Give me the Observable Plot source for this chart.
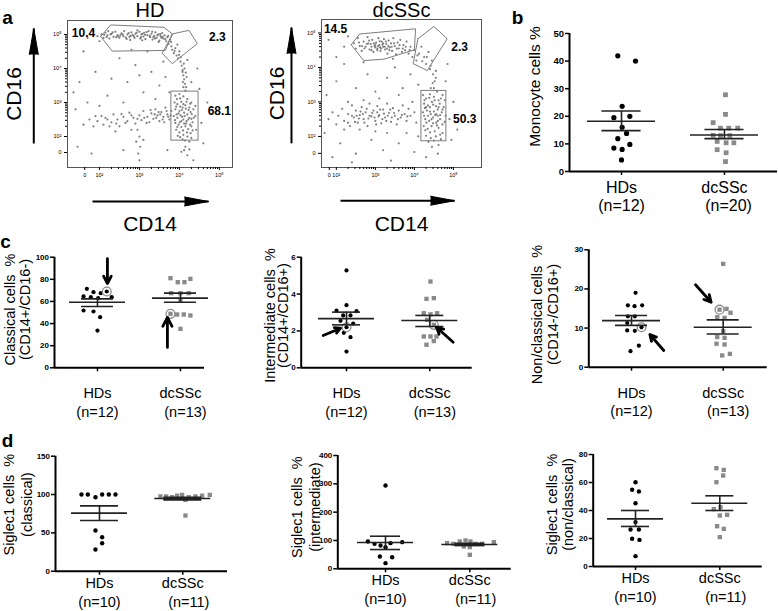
<!DOCTYPE html>
<html><head><meta charset="utf-8">
<script src="https://cdn.jsdelivr.net/npm/d3@7"></script>
<script src="https://cdn.jsdelivr.net/npm/@observablehq/plot@0.6"></script>
<style>
body{margin:0;background:#fff;}
#fig{position:relative;width:778px;height:611px;overflow:hidden;background:#fff;}
#fig svg{position:absolute;overflow:visible;background:transparent;}
</style></head><body><div id="fig"></div>
<script>
// ---------- shared labels ----------
const cats = ["HDs", "dcSSc"];
const flowTickLabels = ["0", "10²", "10³", "10⁴", "10⁵"];

// ---------- panel a : flow cytometry (values in decades) ----------
const hdFlowXTicks = [1.63, 2, 3, 4, 5];
const hdFlowYTicks = [1.53, 2, 3, 4, 5];
const dcFlowXTicks = [1.82, 2, 3, 4, 5];
const dcFlowYTicks = [1.51, 2, 3, 4, 5];

const hdFlowPoints = [
[1.95,4.95],[2.05,5.0],[2.1,4.9],[2.15,5.05],[2.2,4.97],[2.25,4.88],[2.3,5.02],[2.35,4.93],[2.4,5.08],[2.45,4.98],[2.5,4.9],[2.55,5.03],[2.6,4.95],[2.62,5.1],[2.68,4.87],[2.7,5.0],[2.75,4.93],[2.8,5.06],[2.83,4.98],[2.88,4.9],[2.9,5.02],[2.95,4.95],[3.0,5.08],[3.02,4.88],[3.05,5.0],[3.1,4.94],[3.12,5.05],[3.15,4.86],[3.2,4.98],[3.23,5.1],[3.27,4.92],[3.3,5.02],[3.33,4.85],[3.37,4.96],[3.4,5.06],[3.43,4.9],[3.47,5.0],[3.5,4.82],[3.53,4.95],[3.57,5.04],[3.6,4.88],[3.63,4.97],[3.67,4.8],[3.7,4.92],[3.73,4.72],[3.77,4.85],[3.8,4.65],[3.82,4.55],[3.86,4.45],[3.9,4.6],[3.93,4.38],[3.97,4.3],[4.0,4.5],[4.03,4.2],[4.06,4.08],[4.08,3.95],[4.1,3.8],[4.12,3.68],[4.14,3.55],[4.1,3.45],[4.15,3.35],[4.08,3.9],[4.13,4.0],[1.7,4.9],[1.85,5.1],[2.0,4.8],[3.95,4.7],[4.2,4.25],[4.18,3.75],
[2.28,5.0],[2.52,4.97],[2.78,4.96],[3.08,5.02],[3.35,4.92],[3.55,4.9],[2.95,5.12],[2.42,4.92],
[2.12,4.99],[2.18,4.92],[2.33,5.06],[2.47,4.94],[2.58,5.0],[2.66,4.91],[2.73,5.04],[2.86,4.95],[2.93,5.05],[3.04,4.92],[3.14,4.99],[3.18,5.07],[3.26,4.96],[3.32,5.08],[3.39,4.88],[3.45,4.97],[3.52,5.01],[3.58,4.93],[3.65,4.86],[3.72,4.96],[2.22,5.1],[2.77,4.84],[3.07,4.83],[3.48,4.78],[3.79,4.78],[3.88,4.52],[3.99,4.4],[4.04,4.33],[4.11,4.14],[4.16,3.88],[4.09,3.6],[4.17,3.45],
[3.9,3.2],[4.0,3.25],[4.1,3.18],[4.2,3.1],[4.3,3.0],[3.88,3.0],[3.95,2.95],[4.05,3.02],[4.15,2.92],[4.25,2.85],[4.35,2.8],[3.9,2.8],[4.0,2.75],[4.08,2.85],[4.12,2.7],[4.2,2.65],[4.28,2.72],[4.4,2.6],[3.86,2.6],[3.95,2.55],[4.03,2.62],[4.1,2.5],[4.18,2.45],[4.25,2.55],[4.33,2.42],[3.9,2.4],[3.98,2.35],[4.05,2.28],[4.15,2.3],[4.22,2.22],[4.3,2.3],[3.92,2.2],[4.0,2.12],[4.1,2.05],[4.2,2.0],[4.28,2.1],[3.96,2.02],[4.08,1.92],[4.25,1.85],[4.15,1.7],[4.05,1.55],[4.2,1.45],[4.4,2.9],[4.42,2.2],[4.05,2.45],[4.13,2.6],[3.98,2.68],[4.23,2.78],[4.1,2.95],[4.17,2.38],[4.02,2.88],[4.3,2.52],
[3.94,3.1],[4.02,3.12],[4.18,3.02],[4.27,2.96],[3.92,2.88],[4.06,2.78],[4.16,2.82],[4.31,2.66],[3.93,2.65],[4.07,2.58],[4.22,2.5],[4.36,2.55],[3.89,2.48],[4.01,2.42],[4.12,2.38],[4.27,2.35],[3.95,2.28],[4.09,2.18],[4.19,2.12],[4.33,2.18],[4.02,1.98],[4.14,1.88],[4.3,1.96],[4.12,1.6],[4.25,1.62],
[1.6,2.35],[1.75,2.5],[1.85,2.3],[1.95,2.45],[2.05,2.6],[2.1,2.35],[2.2,2.5],[2.3,2.42],[2.35,2.65],[2.45,2.5],[2.5,2.3],[2.6,2.58],[2.7,2.45],[2.75,2.7],[2.85,2.55],[2.9,2.38],[3.0,2.62],[3.05,2.48],[3.1,2.75],[3.2,2.58],[3.25,2.42],[3.3,2.68],[3.35,2.52],[3.4,2.8],[3.45,2.62],[3.5,2.45],[3.55,2.72],[3.6,2.58],[3.65,2.85],[3.7,2.65],[3.75,2.5],[3.8,2.75],[2.95,2.2],[3.0,2.0],[2.92,1.85],[3.02,1.7],[2.97,1.5],[3.1,1.9],[2.8,2.2],[2.4,2.15],
[2.15,2.55],[2.42,2.38],[2.55,2.66],[2.65,2.4],[2.8,2.62],[2.95,2.52],[3.12,2.55],[3.18,2.4],[3.28,2.78],[3.42,2.55],[3.52,2.65],[3.58,2.5],[3.68,2.75],[3.72,2.58],[3.78,2.62],[3.62,2.42],[3.48,2.72],[3.38,2.65],[1.9,2.6],[2.25,2.3],
[1.5,3.6],[1.9,3.9],[2.2,3.2],[2.5,4.3],[2.7,3.6],[2.9,4.1],[3.1,3.3],[3.3,3.9],[3.5,3.5],[3.6,4.2],[3.75,3.3],[1.7,3.0],[2.3,3.7],[2.6,3.0],[3.0,3.8],[3.4,3.1],[3.65,3.75],[4.5,3.4],[4.55,2.4],[4.6,1.8],[1.45,1.7],[1.8,1.5],[2.6,1.6],[3.0,1.3],[3.7,1.6],[4.35,1.3],[1.4,2.8],[2.0,2.9],[4.45,4.0],[4.7,3.0],[1.6,4.5],[2.8,4.55],[3.2,4.5],[1.35,3.3],[4.3,3.6]
];
const hdGateNC = [[2.03,4.94],[2.28,5.28],[3.61,5.21],[3.82,5.02],[3.65,4.53],[2.32,4.51],[2.03,4.94]];
const hdGateInt = [[3.84,5.02],[4.24,5.12],[4.45,4.73],[3.82,4.14],[3.57,4.45],[3.84,5.02]];
const hdGateCl = [3.80, 4.48, 1.88, 3.32];
const hdGatePct = ["10.4", "2.3", "68.1"];
const hdGatePctX = [1.6, 4.95, 5.0];
const hdGatePctY = [5.03, 4.91, 2.74];
const hdUpArrow = [0.356, 1.795, 0.356, 5.175];
const hdRightArrow = [1.826, 0.091, 4.73, 0.091];

const dcFlowPoints = [
[2.45,4.7],[2.5,4.55],[2.55,4.85],[2.6,4.62],[2.65,4.48],[2.7,4.75],[2.75,4.6],[2.8,4.88],[2.85,4.52],[2.88,4.68],[2.92,4.8],[2.95,4.45],[2.98,4.62],[3.02,4.72],[3.05,4.55],[3.08,4.85],[3.1,4.65],[3.13,4.48],[3.16,4.75],[3.2,4.6],[3.22,4.82],[3.25,4.52],[3.28,4.68],[3.31,4.4],[3.34,4.78],[3.37,4.58],[3.4,4.7],[3.43,4.48],[3.46,4.85],[3.5,4.62],[3.53,4.38],[3.57,4.72],[3.6,4.55],[3.64,4.8],[3.68,4.45],[3.72,4.65],[3.76,4.5],[3.8,4.75],[3.85,4.4],[3.9,4.6],[3.95,4.3],[4.0,4.5],[4.05,4.2],[4.12,4.4],[4.18,4.6],[4.25,4.3],[4.3,4.1],[4.36,4.45],[4.4,3.95],[4.45,4.2],[4.48,3.8],[4.52,3.6],[4.5,3.4],[4.55,3.9],[2.3,4.9],[2.2,4.6],
[2.9,4.6],[3.0,4.66],[3.12,4.58],[3.2,4.7],[3.3,4.55],[2.82,4.7],[3.05,4.5],
[2.72,4.55],[2.78,4.68],[2.84,4.78],[2.9,4.5],[2.96,4.7],[3.0,4.58],[3.07,4.62],[3.11,4.76],[3.15,4.55],[3.18,4.66],[3.24,4.6],[3.27,4.75],[3.33,4.62],[3.36,4.5],[3.42,4.6],[3.48,4.7],[3.55,4.55],[3.62,4.65],[3.7,4.55],[3.78,4.6],[3.88,4.5],[2.58,4.72],[2.66,4.62],[4.08,4.35],[4.2,4.18],[4.32,4.3],[4.42,4.05],[4.47,3.55],[4.55,3.7],[4.42,3.4],
[4.22,3.2],[4.3,3.1],[4.4,3.22],[4.5,3.15],[4.62,3.05],[4.72,3.2],[4.25,2.95],[4.35,2.9],[4.45,3.0],[4.55,2.88],[4.65,2.95],[4.75,2.85],[4.22,2.7],[4.32,2.75],[4.42,2.65],[4.5,2.72],[4.6,2.6],[4.7,2.7],[4.28,2.5],[4.38,2.45],[4.48,2.55],[4.56,2.4],[4.66,2.5],[4.78,2.42],[4.24,2.3],[4.34,2.22],[4.44,2.3],[4.52,2.15],[4.62,2.25],[4.72,2.1],[4.3,2.02],[4.42,1.95],[4.55,2.0],[4.68,1.92],[4.4,2.85],[4.6,2.78],[4.48,2.38],[4.35,2.6],[4.58,3.3],[4.45,1.7],[4.6,1.5],[4.3,1.4],[4.53,2.62],[4.27,2.82],
[4.26,3.05],[4.38,3.12],[4.52,3.05],[4.68,3.1],[4.3,2.85],[4.48,2.92],[4.62,2.85],[4.72,2.78],[4.25,2.6],[4.4,2.72],[4.56,2.65],[4.66,2.62],[4.31,2.4],[4.44,2.5],[4.6,2.45],[4.72,2.35],[4.28,2.18],[4.4,2.12],[4.58,2.32],[4.66,2.05],[4.36,1.85],[4.5,1.88],[4.62,1.75],[4.8,2.6],[4.78,3.05],
[1.8,2.5],[1.9,2.7],[2.0,2.35],[2.05,2.6],[2.15,2.8],[2.2,2.45],[2.3,2.65],[2.35,2.3],[2.4,2.9],[2.45,2.55],[2.5,2.75],[2.55,2.4],[2.6,2.62],[2.65,2.85],[2.7,2.5],[2.75,2.7],[2.8,2.3],[2.85,2.95],[2.9,2.58],[2.95,2.75],[3.0,2.45],[3.05,2.88],[3.1,2.62],[3.15,2.38],[3.2,2.78],[3.25,2.55],[3.3,2.95],[3.35,2.68],[3.4,2.42],[3.45,2.82],[3.5,2.6],[3.55,2.35],[3.6,2.75],[3.65,2.55],[3.7,2.9],[3.75,2.65],[3.8,2.45],[3.85,2.8],[3.9,2.6],[3.95,3.0],[4.0,2.7],[4.05,2.4],[2.6,2.2],[3.0,2.15],[3.3,2.1],[2.2,2.2],[2.7,3.05],[3.1,3.1],[2.62,2.72],[2.85,2.6],[3.05,2.7],
[2.52,2.6],[2.58,2.52],[2.68,2.65],[2.72,2.4],[2.78,2.8],[2.82,2.52],[2.92,2.68],[2.98,2.55],[3.02,2.35],[3.08,2.58],[3.12,2.78],[3.18,2.5],[3.22,2.66],[3.28,2.45],[3.32,2.6],[3.38,2.78],[3.42,2.55],[2.4,2.6],[2.3,2.4],[2.48,2.42],[3.48,2.68],[3.58,2.5],[3.68,2.62],[3.82,2.58],
[1.75,3.2],[2.0,3.6],[2.2,4.1],[2.5,3.4],[2.8,3.8],[3.0,3.3],[3.3,3.7],[3.5,4.0],[3.7,3.4],[3.9,3.8],[4.1,3.5],[2.1,1.8],[2.5,1.5],[2.9,1.9],[3.2,1.6],[3.6,1.8],[4.0,1.55],[4.9,2.5],[5.0,3.0],[4.95,1.9],[1.9,1.4],[2.4,1.25],[3.4,1.3],[3.8,2.1],[4.1,2.0],[4.8,3.6],[2.3,3.0],[1.7,2.1],[3.6,3.2],[2.0,4.3],[5.1,2.2],[4.85,4.1],[2.7,4.15],[3.45,4.25],[1.8,4.8]
];
const dcGateNC = [[2.38,4.66],[2.60,4.97],[4.03,5.12],[4.0,4.51],[3.22,4.24],[2.70,4.20],[2.38,4.66]];
const dcGateInt = [[4.09,4.83],[4.50,5.19],[4.84,4.83],[4.33,3.91],[3.97,4.11],[4.09,4.83]];
const dcGateCl = [4.18, 4.82, 1.86, 3.32];
const dcGatePct = ["14.5", "2.3", "50.3"];
const dcGatePctX = [1.98, 5.16, 5.29];
const dcGatePctY = [5.12, 4.58, 2.49];
const dcUpArrow = [0.851, 1.80, 0.851, 5.156];
const dcRightArrow = [2.107, 0.137, 5.03, 0.137];

// ---------- panel b : monocytes ----------
const bHdX = [0.964,1.136,1.006,0.926,1.081,1.006,1.049,0.964,0.926,1.081,1.006,1.0];
const bHdY = [41.9,40.0,23.6,19.5,20.0,16.0,13.8,11.9,8.5,9.8,8.0,4.2];
const bDcX = [2.010,2.010,1.890,1.961,2.042,2.129,1.890,1.961,2.052,1.929,2.016,2.091,1.929,2.016,2.010];
const bDcY = [27.8,20.7,17.7,15.7,15.7,15.7,13.1,13.0,13.0,10.9,10.4,10.4,7.9,6.8,3.6];
const bMean = [18.2, 13.2], bLo = [14.8, 11.9], bHi = [21.9, 15.2];
const bN = ["(n=12)", "(n=20)"];
const bTicks = [0, 10, 20, 30, 40, 50];

// ---------- panel c : classical / intermediate / non-classical ----------
const cN = ["(n=12)", "(n=13)"];
const c1HdX = [0.872,0.952,1.04,1.112,0.832,0.92,1.008,1.172,0.832,0.952,1.032,1.0];
const c1HdY = [71.4,68.4,67.5,69.0,64.5,63.9,63.0,63.9,51.8,50.9,45.8,33.7];
const c1DcX = [1.88,1.968,2.048,2.12,1.888,2.0,2.1,2.0,1.88,1.96,2.04,2.12,2.0];
const c1DcY = [81.0,77.4,77.4,80.4,67.5,67.5,67.5,60.8,48.8,48.2,48.2,47.3,35.2];
const c1Mean = [59.3, 63.0], c1Lo = [55.4, 59.3], c1Hi = [62.3, 67.5];
const c1Ring = [3, 8];
const c1Arrows = [[1.12, 98.8, 1.12, 76.2], [1.843, 18.4, 1.843, 45.5]];
const c1Ticks = [0, 20, 40, 60, 80, 100];

const c2HdX = [1,1,0.88,1.12,0.96,1.048,0.928,1.0,0.968,1.048,1.0,1.08];
const c2HdY = [5.28,3.40,3.10,3.07,2.84,2.84,2.55,2.20,1.90,1.66,0.88,2.40];
const c2DcX = [2.008,1.96,2.048,1.928,2.008,2.088,1.968,2.048,1.928,2.008,2.08,1.96,2.048];
const c2DcY = [4.68,3.74,3.78,2.96,2.90,2.96,2.60,2.33,1.70,1.70,1.70,1.25,1.45];
const c2Mean = [2.67, 2.57], c2Lo = [2.33, 2.24], c2Hi = [3.02, 2.84];
const c2Ring = [7, 7];
const c2Arrows = [[0.72, 1.75, 0.928, 2.15], [2.281, 1.39, 2.08, 2.2]];
const c2Ticks = [0, 2, 4, 6];

const c3HdX = [1.044,0.96,1.033,1.116,0.96,1.036,0.953,1.109,0.953,1.036,1.08,0.989];
const c3HdY = [19.0,15.8,15.6,15.8,13.0,13.0,11.3,10.2,9.4,9.3,5.5,4.1];
const c3DcX = [2.0,1.96,2.036,2.08,1.935,2.015,2.0,1.935,2.015,1.927,2.015,1.989,2.073];
const c3DcY = [26.4,14.7,14.9,13.9,12.8,12.6,9.2,7.7,7.5,6.0,5.8,3.0,3.4];
const c3Mean = [11.9, 10.2], c3Lo = [10.7, 8.5], c3Hi = [13.2, 12.1];
const c3Ring = [7, 1];
const c3Arrows = [[1.352, 4.27, 1.2, 8.36], [1.698, 21.06, 1.869, 16.6]];
const c3Ticks = [0, 10, 20, 30];

// ---------- panel d : Siglec1 ----------
const dN = ["(n=10)", "(n=11)"];
const d1HdX = [0.784,0.86,0.952,1.032,1.112,1.192,0.952,1.032,1.032,0.952];
const d1HdY = [100,100,96.5,100,100,100,53,44.3,36.5,28.3];
const d1DcX = [1.732,1.8,1.872,1.932,1.992,2.072,2.152,2.232,2.324,2.032,2.032];
const d1DcY = [97.5,97.5,96.5,98.5,99.5,96.5,97.5,98.5,99.5,93.0,72.6];
const d1Mean = [75.7, 94.8], d1Lo = [66.1, 93.0], d1Hi = [85.2, 96.5];
const d1Ticks = [0, 50, 100, 150];

const d2HdX = [1.0,0.791,0.87,0.941,1.059,1.198,1.0,0.933,1.079,1.0];
const d2HdY = [294,96.5,88,82,90.6,94,76.5,43.5,41,20];
const d2DcX = [1.731,1.802,1.881,1.949,2.008,2.067,2.146,2.285,1.929,2.0,2.0];
const d2DcY = [90.6,88,96.5,100,96.5,88,88,94,78.8,76.5,49.4];
const d2Mean = [93, 86], d2Lo = [68, 82], d2Hi = [115, 90];
const d2Ticks = [0, 100, 200, 300, 400];

const d3HdX = [1.0,0.96,1.04,1.0,1.0,0.941,1.04,0.96,1.047,1.0];
const d3HdY = [60.2,54.8,53.6,45.2,31.7,26.4,26.4,19.8,19.0,7.4];
const d3DcX = [1.96,2.047,2.04,1.96,1.929,2.008,2.0,2.087,1.968,2.047,2.0];
const d3DcY = [70.2,69.0,65.0,60.2,41.0,42.4,36.4,36.9,28.8,26.9,21.0];
const d3Mean = [34, 45.2], d3Lo = [28.6, 40], d3Hi = [40, 50.5];
const d3Ticks = [0, 20, 40, 60, 80];

// ---------- rendering ----------
const FONT = "'Liberation Sans', Arial, Helvetica, sans-serif";
const fig = document.getElementById("fig");
const flowMinor = d3.range(2, 5).flatMap(k => d3.range(2, 10).map(m => k + Math.log10(m)));

function place(svg, left, top) {
  svg.style.left = left + "px";
  svg.style.top = top + "px";
  fig.appendChild(svg);
}

function flowPanel(p) {
  const lx = new Map(p.xTicks.map((t, i) => [t, flowTickLabels[i]]));
  const ly = new Map(p.yTicks.map((t, i) => [t, flowTickLabels[i]]));
  const gx = d => d[0], gy = d => d[1];
  const marks = [
    Plot.dot(p.points, {x: gx, y: gy, r: 1.1, fill: "#555", fillOpacity: 0.75}),
    Plot.line(p.gateNC, {x: gx, y: gy, stroke: "#7d7d7d", strokeWidth: 1}),
    Plot.line(p.gateInt, {x: gx, y: gy, stroke: "#7d7d7d", strokeWidth: 1}),
    Plot.rect([p.gateCl], {x1: d => d[0], x2: d => d[1], y1: d => d[2], y2: d => d[3], fill: "none", stroke: "#7d7d7d", strokeWidth: 1}),
    Plot.frame({stroke: "#555", strokeWidth: 1}),
    Plot.axisX({ticks: p.xTicks, tickFormat: d => lx.get(d), tickSize: 3, tickPadding: 3, fontSize: 5.5, label: null}),
    Plot.axisX({ticks: flowMinor, tickSize: 2, tickFormat: () => "", label: null}),
    Plot.axisY({ticks: p.yTicks, tickFormat: d => ly.get(d), tickSize: 3, tickPadding: 3, fontSize: 5.5, label: null}),
    Plot.axisY({ticks: flowMinor, tickSize: 2, tickFormat: () => "", label: null}),
    Plot.text(p.pct, {x: p.pctX, y: p.pctY, fontSize: 12, fontWeight: "bold"}),
    Plot.text([p.title], {frameAnchor: "top", dy: p.titleDy, fontSize: 20, lineAnchor: "middle", textAnchor: "middle"}),
    Plot.text(["CD16"], {frameAnchor: "left", dx: p.cd16Dx, dy: 0, rotate: -90, fontSize: 21, lineAnchor: "middle", textAnchor: "middle"}),
    Plot.text(["CD14"], {frameAnchor: "bottom", dy: 57, fontSize: 21, lineAnchor: "middle", textAnchor: "middle"}),
    Plot.link([p.up, p.right], {x1: d => d[0], y1: d => d[1], x2: d => d[2], y2: d => d[3], stroke: "#000", strokeWidth: 2}),
    Plot.vector([p.up], {x: d => d[2], y: d => d[3], length: 26, r: 4.5, rotate: 0, shape: "spike", anchor: "end", fill: "#000", stroke: "#000", strokeWidth: 1}),
    Plot.vector([p.right], {x: d => d[2], y: d => d[3], length: 24, r: 4.5, rotate: 90, shape: "spike", anchor: "end", fill: "#000", stroke: "#000", strokeWidth: 1})
  ];
  if (p.letter) marks.push(Plot.text([p.letter], {frameAnchor: "top-left", dx: p.letter_dx, dy: p.letter_dy, fontSize: 19, fontWeight: "bold", textAnchor: "middle", lineAnchor: "middle"}));
  const svg = Plot.plot({
    width: p.w, height: p.h,
    marginLeft: p.m[0], marginRight: p.m[1], marginTop: p.m[2], marginBottom: p.m[3],
    x: {domain: p.xDomain}, y: {domain: p.yDomain},
    style: {fontFamily: FONT, background: "transparent", overflow: "visible", color: "#000"},
    marks
  });
  place(svg, p.left, p.top);
}

function scatterPanel(p) {
  const hd = p.hdY.map((y, i) => ({x: p.hdX[i], y, ring: p.ring && i === p.ring[0]}));
  const dc = p.dcY.map((y, i) => ({x: p.dcX[i], y, ring: p.ring && i === p.ring[1]}));
  const st = [0, 1].map(i => ({g: i + 1, m: p.mean[i], lo: p.lo[i], hi: p.hi[i]}));
  const s = p.s;
  const LC = "#222";
  const marks = [
    Plot.axisY({ticks: p.yTicks, tickFormat: d => String(d), tickSize: 4, tickPadding: 1.5, strokeWidth: 1.5, fontSize: s.tickFont, fontWeight: "bold", label: null}),
    Plot.axisX({ticks: [1, 2], tickSize: 4, strokeWidth: 1.5, tickFormat: () => "", label: null}),
    Plot.ruleX([p.xDomain[0]], {strokeWidth: 2, stroke: "#000"}),
    Plot.ruleY([0], {strokeWidth: 2, stroke: "#000"}),
    Plot.dot(dc, {x: "x", y: "y", r: s.sqR, symbol: "square", fill: "#8a8a8a"}),
    Plot.dot(hd, {x: "x", y: "y", r: s.dotR, fill: "#000"}),
    Plot.dot([...hd, ...dc].filter(d => d.ring), {x: "x", y: "y", r: 4.4, fill: "none", stroke: "#8a8a8a", strokeWidth: 1.3}),
    Plot.ruleY(st, {y: "m", x1: d => d.g - s.meanHalf, x2: d => d.g + s.meanHalf, stroke: LC, strokeWidth: 1.6}),
    Plot.ruleY(st, {y: "lo", x1: d => d.g - s.semHalf, x2: d => d.g + s.semHalf, stroke: LC, strokeWidth: 1.6}),
    Plot.ruleY(st, {y: "hi", x1: d => d.g - s.semHalf, x2: d => d.g + s.semHalf, stroke: LC, strokeWidth: 1.6}),
    Plot.ruleX(st, {x: "g", y1: "lo", y2: "hi", stroke: LC, strokeWidth: 1.6}),
    Plot.text(cats, {x: [1, 2], frameAnchor: "bottom", dy: s.catDy, fontSize: s.catFont, lineAnchor: "middle", textAnchor: "middle"}),
    Plot.text(p.n, {x: [1, 2 + s.nOff], frameAnchor: "bottom", dy: s.nDy, fontSize: s.catFont, lineAnchor: "middle", textAnchor: "middle"})
  ];
  p.ylab.forEach((t, i) => marks.push(Plot.text([t], {frameAnchor: "left", rotate: -90, dx: s.labDx[i], dy: s.labDy, fontSize: s.labFont, lineAnchor: "middle", textAnchor: "middle"})));
  if (p.arrows) marks.push(Plot.arrow(p.arrows, {x1: d => d[0], y1: d => d[1], x2: d => d[2], y2: d => d[3], stroke: "#000", strokeWidth: 2.8, headLength: 10, headAngle: 55}));
  if (p.letter) marks.push(Plot.text([p.letter], {frameAnchor: "top-left", dx: s.letterDx, dy: s.letterDy, fontSize: 19, fontWeight: "bold", textAnchor: "middle", lineAnchor: "middle"}));
  const svg = Plot.plot({
    width: p.w, height: p.h,
    marginLeft: p.m[0], marginRight: p.m[1], marginTop: p.m[2], marginBottom: p.m[3],
    x: {domain: p.xDomain}, y: {domain: [0, p.yTicks[p.yTicks.length - 1]]},
    style: {fontFamily: FONT, background: "transparent", overflow: "visible", color: "#000"},
    marks
  });
  place(svg, p.left, p.top);
}

// panel a
flowPanel({left: 0, top: 0, w: 260, h: 240, m: [67, 28, 20, 73], xDomain: [1.2, 5.33], yDomain: [1.09, 5.41],
  points: hdFlowPoints, gateNC: hdGateNC, gateInt: hdGateInt, gateCl: hdGateCl,
  pct: hdGatePct, pctX: hdGatePctX, pctY: hdGatePctY, xTicks: hdFlowXTicks, yTicks: hdFlowYTicks,
  title: "HD", titleDy: -10, cd16Dx: -53, up: hdUpArrow, right: hdRightArrow,
  letter: "a", letter_dx: -60, letter_dy: -3});
flowPanel({left: 260, top: 0, w: 260, h: 240, m: [61, 39, 19, 73], xDomain: [1.62, 5.72], yDomain: [1.10, 5.39],
  points: dcFlowPoints, gateNC: dcGateNC, gateInt: dcGateInt, gateCl: dcGateCl,
  pct: dcGatePct, pctX: dcGatePctX, pctY: dcGatePctY, xTicks: dcFlowXTicks, yTicks: dcFlowYTicks,
  title: "dcSSc", titleDy: -9, cd16Dx: -44, up: dcUpArrow, right: dcRightArrow});

// panel b
scatterPanel({left: 520, top: 0, w: 258, h: 230, m: [49, 1, 33, 59], xDomain: [0.495, 2.515], yTicks: bTicks,
  hdX: bHdX, hdY: bHdY, dcX: bDcX, dcY: bDcY, mean: bMean, lo: bLo, hi: bHi, n: bN,
  ylab: ["Monocyte cells %"], letter: "b",
  s: {tickFont: 9.5, dotR: 2.6, sqR: 2.7, meanHalf: 0.33, semHalf: 0.19, catDy: 16, nDy: 34, catFont: 16, labFont: 15.5, nOff: 0.04, labDx: [-34], labDy: -16, letterDx: -52, letterDy: -16}});

// panel c
const cStyle = (sp, labDx, labDy, meanPx, semPx) => ({tickFont: 8, dotR: 2.1, sqR: 2.45, meanHalf: meanPx / sp, semHalf: semPx / sp, catDy: 26, nDy: 44.5, catFont: 14.5, labFont: 14.5, nOff: 5 / sp, labDx, labDy, letterDx: -49, letterDy: -15});
scatterPanel({left: 0, top: 230, w: 260, h: 200, m: [54, 56, 26.7, 62.7], xDomain: [0.482, 2.29], yTicks: c1Ticks,
  hdX: c1HdX, hdY: c1HdY, dcX: c1DcX, dcY: c1DcY, mean: c1Mean, lo: c1Lo, hi: c1Hi, n: cN, ring: c1Ring, arrows: c1Arrows,
  ylab: ["Classical cells  %", "(CD14+/CD16-)"], letter: "c", s: cStyle(83, [-44, -29], -3, 28, 16)});
scatterPanel({left: 260, top: 230, w: 260, h: 200, m: [40.7, 48.3, 26.7, 62.7], xDomain: [0.456, 2.509], yTicks: c2Ticks,
  hdX: c2HdX, hdY: c2HdY, dcX: c2DcX, dcY: c2DcY, mean: c2Mean, lo: c2Lo, hi: c2Hi, n: cN, ring: c2Ring, arrows: c2Arrows,
  ylab: ["Intermediate cells  %", "(CD14+/CD16+)"], s: cStyle(83.3, [-30.7, -17.4], 3, 28, 14)});
scatterPanel({left: 520, top: 230, w: 258, h: 200, m: [68.3, 11.3, 19.3, 63.3], xDomain: [0.534, 2.48], yTicks: c3Ticks,
  hdX: c3HdX, hdY: c3HdY, dcX: c3DcX, dcY: c3DcY, mean: c3Mean, lo: c3Lo, hi: c3Hi, n: cN, ring: c3Ring, arrows: c3Arrows,
  ylab: ["Non/classical cells  %", "(CD14-/CD16+)"], s: cStyle(91.7, [-51.6, -35], 6, 29, 16)});

// panel d
const dStyle = (sp, labDx, labDy, semPx) => ({tickFont: 8, dotR: 2.2, sqR: 2.45, meanHalf: 28 / sp, semHalf: semPx / sp, catDy: 12, nDy: 31, catFont: 14.5, labFont: 14.5, nOff: 6 / sp, labDx, labDy, letterDx: -48, letterDy: -15});
scatterPanel({left: 0, top: 410, w: 260, h: 201, m: [55, 33, 45.7, 40.3], xDomain: [0.472, 2.537], yTicks: d1Ticks,
  hdX: d1HdX, hdY: d1HdY, dcX: d1DcX, dcY: d1DcY, mean: d1Mean, lo: d1Lo, hi: d1Hi, n: dN,
  ylab: ["Siglec1 cells  %", "(classical)"], letter: "d", s: dStyle(83.3, [-45.7, -28.3], -9, 19)});
scatterPanel({left: 260, top: 410, w: 260, h: 201, m: [77.3, 9.3, 45, 42.7], xDomain: [0.434, 2.491], yTicks: d2Ticks,
  hdX: d2HdX, hdY: d2HdY, dcX: d2DcX, dcY: d2DcY, mean: d2Mean, lo: d2Lo, hi: d2Hi, n: dN,
  ylab: ["Siglec1 cells  %", "(intermediate)"], s: dStyle(84.3, [-40.6, -22.3], -5, 15)});
scatterPanel({left: 520, top: 410, w: 258, h: 201, m: [72.7, 16.3, 44, 45], xDomain: [0.498, 2.503], yTicks: d3Ticks,
  hdX: d3HdX, hdY: d3HdY, dcX: d3DcX, dcY: d3DcY, mean: d3Mean, lo: d3Lo, hi: d3Hi, n: dN,
  ylab: ["Siglec1 cells  %", "(non/classical)"], s: dStyle(84.3, [-41, -24.4], -6, 14)});
</script></body></html>
